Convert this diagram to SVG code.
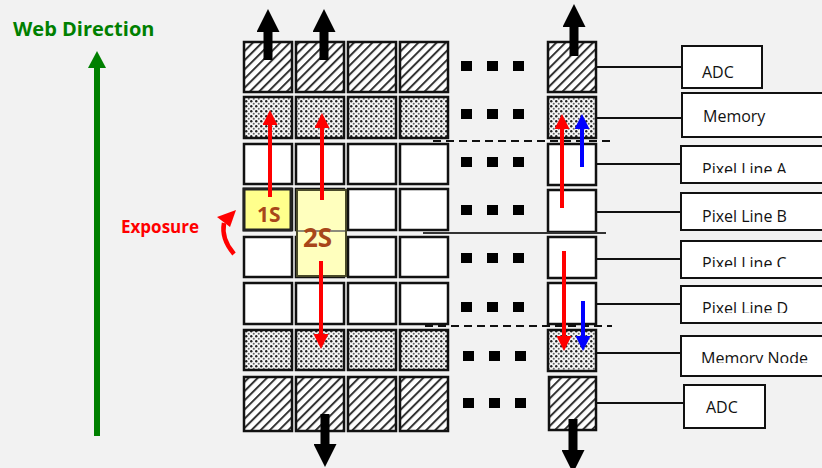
<svg xmlns="http://www.w3.org/2000/svg" width="822" height="468" viewBox="0 0 822 468">
<style>
.cell{fill:#fff;stroke:#111;stroke-width:2.5}
.hat{fill:url(#hatch);stroke:#111;stroke-width:2.5}
.dot{fill:url(#dots);stroke:#111;stroke-width:2.5}
.sq{fill:#000}
.lbl{fill:#fff;stroke:#111;stroke-width:2}
.lt{font-family:"Open Sans",sans-serif;font-size:16px;fill:#111}
.ln{stroke:#111;stroke-width:2;fill:none}
.red{stroke:#ff0000;stroke-width:4;fill:none;marker-end:url(#rh)}
.blue{stroke:#0000ff;stroke-width:4;fill:none;marker-end:url(#bh)}
.blk{stroke:#000;stroke-width:9;fill:none;marker-end:url(#kh)}
</style>
<defs>
<pattern id="hatch" patternUnits="userSpaceOnUse" width="6.5" height="6.5" patternTransform="rotate(45)">
<rect width="6.5" height="6.5" fill="#fff"/>
<rect x="0" y="0" width="2" height="6.5" fill="#333"/>
</pattern>
<pattern id="dots" patternUnits="userSpaceOnUse" width="5" height="5">
<rect width="5" height="5" fill="#f6f6f6"/>
<circle cx="1.25" cy="1.25" r="1.2" fill="#222"/>
<circle cx="3.75" cy="3.75" r="1" fill="#666"/>
</pattern>
<marker id="rh" viewBox="0 -7.5 15 15" refX="1" refY="0" markerWidth="15" markerHeight="15" markerUnits="userSpaceOnUse" orient="auto"><path d="M0,-7.5 L15,0 L0,7.5 z" fill="#ff0000"/></marker>
<marker id="bh" viewBox="0 -7.5 15 15" refX="1" refY="0" markerWidth="15" markerHeight="15" markerUnits="userSpaceOnUse" orient="auto"><path d="M0,-7.5 L15,0 L0,7.5 z" fill="#0000ff"/></marker>
<marker id="kh" viewBox="0 -11.5 23 23" refX="1" refY="0" markerWidth="23" markerHeight="23" markerUnits="userSpaceOnUse" orient="auto"><path d="M0,-11.5 L23,0 L0,11.5 z" fill="#000"/></marker>
<marker id="gh" viewBox="0 -9 17 18" refX="1" refY="0" markerWidth="17" markerHeight="18" markerUnits="userSpaceOnUse" orient="auto"><path d="M0,-9 L17,0 L0,9 z" fill="#008000"/></marker>
<clipPath id="cA"><rect x="690" y="150" width="132" height="23"/></clipPath>
<clipPath id="cC"><rect x="690" y="245" width="132" height="22"/></clipPath>
<clipPath id="cD"><rect x="690" y="290" width="132" height="23"/></clipPath>
<clipPath id="cM"><rect x="690" y="340" width="132" height="23"/></clipPath>
</defs>
<rect width="822" height="468" fill="#f2f2f2"/>

<g id="web-direction">
<line x1="97" y1="436" x2="97" y2="67" stroke="#008000" stroke-width="6" marker-end="url(#gh)"/>
<text x="13" y="36" font-family="'Open Sans',sans-serif" font-weight="bold" font-size="20" fill="#008000">Web Direction</text>
</g>

<g id="exposure">
<text x="121" y="233" font-family="'Open Sans',sans-serif" font-weight="bold" font-size="17" fill="#ff0000">Exposure</text>
<path d="M234,254 Q221,239 224,223" stroke="#ff0000" stroke-width="4.5" fill="none"/>
<path d="M236,210 L217,217 L230,227 z" fill="#ff0000"/>
</g>

<g id="grid">
<g id="row-adc-top">
<rect class="hat" x="244" y="42" width="48" height="50"/><rect class="hat" x="296" y="42" width="48" height="50"/><rect class="hat" x="348" y="42" width="48" height="50"/><rect class="hat" x="400" y="42" width="48" height="50"/><rect class="hat" x="548" y="42" width="48" height="50"/>
</g>
<g id="row-memory-top">
<rect class="dot" x="244" y="97" width="48" height="41"/><rect class="dot" x="296" y="97" width="48" height="41"/><rect class="dot" x="348" y="97" width="48" height="41"/><rect class="dot" x="400" y="97" width="48" height="41"/><rect class="dot" x="548" y="97" width="48" height="41"/>
</g>
<g id="row-a">
<rect class="cell" x="244" y="144" width="48" height="40"/><rect class="cell" x="296" y="144" width="48" height="40"/><rect class="cell" x="348" y="144" width="48" height="40"/><rect class="cell" x="400" y="144" width="48" height="40"/><rect class="cell" x="548" y="144" width="48" height="41"/>
</g>
<g id="row-b">
<rect class="cell" x="244" y="189" width="48" height="41"/><rect class="cell" x="296" y="189" width="48" height="41"/><rect class="cell" x="348" y="189" width="48" height="41"/><rect class="cell" x="400" y="189" width="48" height="41"/><rect class="cell" x="548" y="190" width="48" height="42"/>
</g>
<g id="row-c">
<rect class="cell" x="244" y="237" width="48" height="40"/><rect class="cell" x="296" y="237" width="48" height="40"/><rect class="cell" x="348" y="237" width="48" height="40"/><rect class="cell" x="400" y="237" width="48" height="40"/><rect class="cell" x="548" y="237" width="48" height="41"/>
</g>
<g id="row-d">
<rect class="cell" x="244" y="283" width="48" height="41"/><rect class="cell" x="296" y="283" width="48" height="41"/><rect class="cell" x="348" y="283" width="48" height="41"/><rect class="cell" x="400" y="283" width="48" height="41"/><rect class="cell" x="548" y="283" width="48" height="41"/>
</g>
<g id="row-memory-bottom">
<rect class="dot" x="244" y="330" width="48" height="40"/><rect class="dot" x="296" y="330" width="48" height="40"/><rect class="dot" x="348" y="330" width="48" height="40"/><rect class="dot" x="400" y="330" width="48" height="40"/><rect class="dot" x="548" y="330" width="48" height="41"/>
</g>
<g id="row-adc-bottom">
<rect class="hat" x="244" y="377" width="48" height="54"/><rect class="hat" x="296" y="377" width="48" height="54"/><rect class="hat" x="348" y="377" width="48" height="54"/><rect class="hat" x="400" y="377" width="48" height="54"/><rect class="hat" x="549" y="377" width="47" height="53"/>
</g>
<g id="ellipsis">
<rect class="sq" x="461" y="61" width="11" height="10"/><rect class="sq" x="487" y="61" width="11" height="10"/><rect class="sq" x="513" y="61" width="11" height="10"/>
<rect class="sq" x="461" y="109" width="11" height="10"/><rect class="sq" x="487" y="109" width="11" height="10"/><rect class="sq" x="513" y="109" width="11" height="10"/>
<rect class="sq" x="461" y="157" width="11" height="10"/><rect class="sq" x="487" y="157" width="11" height="10"/><rect class="sq" x="513" y="157" width="11" height="10"/>
<rect class="sq" x="461" y="205" width="11" height="10"/><rect class="sq" x="487" y="205" width="11" height="10"/><rect class="sq" x="513" y="205" width="11" height="10"/>
<rect class="sq" x="461" y="253" width="11" height="10"/><rect class="sq" x="487" y="253" width="11" height="10"/><rect class="sq" x="513" y="253" width="11" height="10"/>
<rect class="sq" x="461" y="302" width="11" height="10"/><rect class="sq" x="487" y="302" width="11" height="10"/><rect class="sq" x="513" y="302" width="11" height="10"/>
<rect class="sq" x="463" y="351" width="11" height="10"/><rect class="sq" x="489" y="351" width="11" height="10"/><rect class="sq" x="515" y="351" width="11" height="10"/>
<rect class="sq" x="463" y="398" width="11" height="10"/><rect class="sq" x="489" y="398" width="11" height="10"/><rect class="sq" x="515" y="398" width="11" height="10"/>
</g>
</g>

<g id="exposure-1S">
<rect x="244" y="189" width="47" height="41" fill="#ffff8c" stroke="#222" stroke-width="3"/>
<text x="257" y="222" font-family="'Open Sans',sans-serif" font-weight="bold" font-size="21" fill="#a8461a">1S</text>
</g>
<g id="exposure-2S">
<rect x="297" y="190" width="49" height="86" fill="#ffffbe" stroke="#4a4a2a" stroke-width="2"/>
<line x1="298" y1="231" x2="345" y2="231" stroke="#666" stroke-width="1.5"/>
<text x="303" y="247" font-family="'Open Sans',sans-serif" font-weight="bold" font-size="26" fill="#a8461a">2S</text>
</g>

<g id="boundaries">
<line x1="433" y1="141" x2="610" y2="141" stroke="#111" stroke-width="2" stroke-dasharray="8,5"/>
<line x1="423" y1="233" x2="606" y2="233" stroke="#333" stroke-width="2"/>
<line x1="425" y1="326" x2="612" y2="326" stroke="#111" stroke-width="2" stroke-dasharray="8,5"/>
</g>

<g id="connectors">
<line class="red" x1="270" y1="197" x2="270" y2="124"/>
<line class="red" x1="322" y1="200" x2="322" y2="127"/>
<line class="red" x1="321" y1="261" x2="321" y2="335"/>
<line class="red" x1="562" y1="208" x2="562" y2="128"/>
<line class="blue" x1="582" y1="167" x2="582" y2="128"/>
<line class="red" x1="564" y1="251" x2="564" y2="337"/>
<line class="blue" x1="583" y1="301" x2="583" y2="337"/>
<line class="blk" x1="268" y1="60" x2="268" y2="31"/>
<line class="blk" x1="324" y1="60" x2="324" y2="31"/>
<line class="blk" x1="574" y1="56" x2="574" y2="26"/>
<line class="blk" x1="325" y1="414" x2="325" y2="445"/>
<line class="blk" x1="573" y1="419" x2="573" y2="451"/>
<line class="ln" x1="596" y1="67" x2="682" y2="67"/>
<line class="ln" x1="596" y1="118" x2="682" y2="118"/>
<line class="ln" x1="596" y1="164" x2="681" y2="164"/>
<line class="ln" x1="596" y1="212" x2="681" y2="212"/>
<line class="ln" x1="596" y1="259" x2="681" y2="259"/>
<line class="ln" x1="596" y1="304" x2="681" y2="304"/>
<line class="ln" x1="596" y1="353" x2="681" y2="353"/>
<line class="ln" x1="597" y1="403" x2="684" y2="403"/>
</g>

<g id="label-adc-top"><rect class="lbl" x="682" y="46" width="80" height="42"/><text class="lt" x="702" y="78">ADC</text></g>
<g id="label-memory"><rect class="lbl" x="682" y="93" width="160" height="44"/><text class="lt" x="703" y="122">Memory</text></g>
<g id="label-pixel-a"><rect class="lbl" x="681" y="146" width="160" height="37"/><text class="lt" x="702" y="175" clip-path="url(#cA)">Pixel Line A</text></g>
<g id="label-pixel-b"><rect class="lbl" x="681" y="193" width="160" height="37"/><text class="lt" x="702" y="222">Pixel Line B</text></g>
<g id="label-pixel-c"><rect class="lbl" x="681" y="241" width="160" height="37"/><text class="lt" x="702" y="269" clip-path="url(#cC)">Pixel Line C</text></g>
<g id="label-pixel-d"><rect class="lbl" x="681" y="286" width="160" height="37"/><text class="lt" x="702" y="314" clip-path="url(#cD)">Pixel Line D</text></g>
<g id="label-memory-node"><rect class="lbl" x="681" y="336" width="160" height="40"/><text class="lt" x="701" y="364" clip-path="url(#cM)">Memory Node</text></g>
<g id="label-adc-bottom"><rect class="lbl" x="684" y="385" width="81" height="43"/><text class="lt" x="706" y="413">ADC</text></g>
</svg>
